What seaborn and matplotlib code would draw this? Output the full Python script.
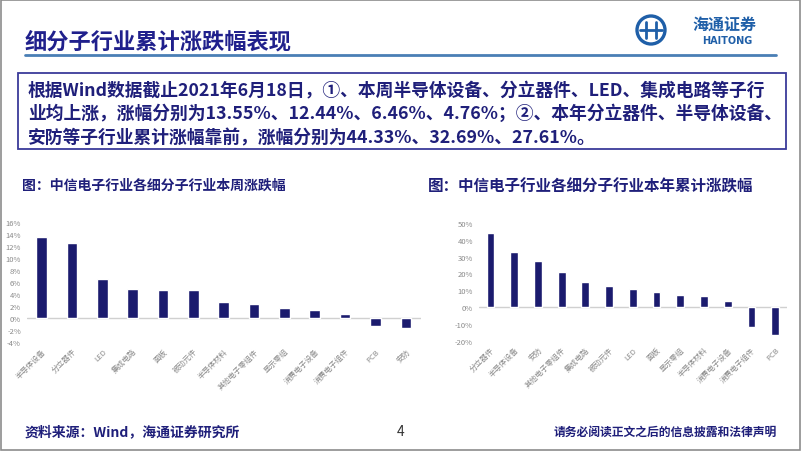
import matplotlib
matplotlib.use("Agg")
import matplotlib.pyplot as plt
import seaborn as sns
from matplotlib.patches import Rectangle, Ellipse
from matplotlib.lines import Line2D

# weekly change by sub-industry (%)
week_labels = ["半导体设备", "分立器件", "LED", "集成电路", "面板", "被动元件",
               "半导体材料", "其他电子零组件", "显示零组", "消费电子设备",
               "消费电子组件", "PCB", "安防"]
week_values = [13.55, 12.44, 6.46, 4.76, 4.65, 4.6, 2.6, 2.3, 1.65, 1.4, 0.65, -1.35, -1.6]
week_ticks = [-4, -2, 0, 2, 4, 6, 8, 10, 12, 14, 16]

# year-to-date change by sub-industry (%)
ytd_labels = ["分立器件", "半导体设备", "安防", "其他电子零组件", "集成电路",
              "被动元件", "LED", "面板", "显示零组", "半导体材料",
              "消费电子设备", "消费电子组件", "PCB"]
ytd_values = [44.33, 32.69, 27.61, 20.7, 14.9, 12.3, 10.7, 9.0, 7.4, 6.4, 3.4, -12.0, -16.4]
ytd_ticks = [-20, -10, 0, 10, 20, 30, 40, 50]

title = "细分子行业累计涨跌幅表现"
summary = ["根据Wind数据截止2021年6月18日，①、本周半导体设备、分立器件、LED、集成电路等子行",
           "业均上涨，涨幅分别为13.55%、12.44%、6.46%、4.76%；②、本年分立器件、半导体设备、",
           "安防等子行业累计涨幅靠前，涨幅分别为44.33%、32.69%、27.61%。"]

sns.set_theme(style="white")
plt.rcParams['font.family'] = ['Noto Sans CJK SC', 'DejaVu Sans']

NAVY = "#1f1f7a"
BAR = "#1b1b6e"
GREY = "#8a8a8a"
LOGO = "#1f5fa8"

fig = plt.figure(figsize=(8.02, 4.52), dpi=100)
W, H = 802, 452


def fx(x):
    return x / W


def fy(y):
    return 1 - y / H


# slide frame
fig.patches.append(Rectangle((0.001, 0.002), 0.997, 0.995, transform=fig.transFigure,
                             fill=False, edgecolor="#8c8c8c", lw=1.2))

# header
fig.text(fx(25), fy(42), title, fontsize=16, fontweight='bold', color="#20208c",
         va='center', ha='left')
fig.lines.append(Line2D([fx(25), fx(776)], [fy(56), fy(56)], transform=fig.transFigure,
                        color="#4a7fb5", lw=2))

# logo (rough emblem + name)
fig.patches.append(Ellipse((fx(651), fy(31)), fx(28), 28 / H, transform=fig.transFigure,
                           fill=False, edgecolor=LOGO, lw=2.4))
fig.lines.append(Line2D([fx(640), fx(662)], [fy(31), fy(31)], transform=fig.transFigure,
                        color=LOGO, lw=2))
for xx in (646, 656):
    fig.lines.append(Line2D([fx(xx), fx(xx)], [fy(23), fy(39)], transform=fig.transFigure,
                            color=LOGO, lw=2))
fig.text(fx(724), fy(25), "海通证券", fontsize=11.5, color=LOGO, fontweight='bold',
         ha='center', va='center', style='italic')
fig.text(fx(727), fy(41), "HAITONG", fontsize=7, color=LOGO, fontweight='bold',
         ha='center', va='center', family='DejaVu Sans')

# summary box
fig.patches.append(Rectangle((fx(18), fy(150)), fx(768), (150 - 74) / H,
                             transform=fig.transFigure, fill=False,
                             edgecolor="#3a3a9a", lw=1.3))
for i, line in enumerate(summary):
    fig.text(fx(28), fy(90 + i * 24), line, fontsize=12.8, fontweight='bold',
             color=NAVY, ha='left', va='center')

# chart subtitles
fig.text(fx(22), fy(186), "图：中信电子行业各细分子行业本周涨跌幅", fontsize=10,
         fontweight='bold', color=NAVY, ha='left', va='center')
fig.text(fx(428), fy(186), "图：中信电子行业各细分子行业本年累计涨跌幅", fontsize=11.2,
         fontweight='bold', color=NAVY, ha='left', va='center')


def bar_chart(ax, labels, values, ticks, width):
    sns.barplot(x=labels, y=values, ax=ax, color=BAR, saturation=1, width=width)
    ax.axhline(0, color="#d0d0d0", lw=1, zorder=0)
    ax.set_xlim(-0.5, len(labels) - 0.5)
    ax.set_ylim(ticks[0], ticks[-1])
    ax.set_yticks(ticks)
    ax.set_yticklabels([f"{t}%" for t in ticks])
    ax.set_xlabel("")
    ax.set_ylabel("")
    for s in ax.spines.values():
        s.set_visible(False)
    ax.tick_params(axis='both', length=0, colors=GREY, labelsize=5.5)
    ax.tick_params(axis='y', pad=4)
    for lab in ax.get_xticklabels():
        lab.set_rotation(45)
        lab.set_ha('right')
        lab.set_rotation_mode('anchor')
    ax.set_facecolor('none')


ax1 = fig.add_axes([fx(26.5), fy(343), fx(421 - 26.5), (343 - 223) / H])
bar_chart(ax1, week_labels, week_values, week_ticks, 0.35)

ax2 = fig.add_axes([fx(478.6), fy(341.6), fx(787 - 478.6), (341.6 - 224) / H])
bar_chart(ax2, ytd_labels, ytd_values, ytd_ticks, 0.33)

# footer
fig.text(fx(25), fy(432), "资料来源：Wind，海通证券研究所", fontsize=10, fontweight='bold',
         color=NAVY, ha='left', va='center')
fig.text(fx(401), fy(432), "4", fontsize=10, color="#333333", ha='center', va='center')
fig.text(fx(777), fy(432), "请务必阅读正文之后的信息披露和法律声明", fontsize=8.5,
         fontweight='bold', color=NAVY, ha='right', va='center')

fig.savefig("out.png", dpi=100)
